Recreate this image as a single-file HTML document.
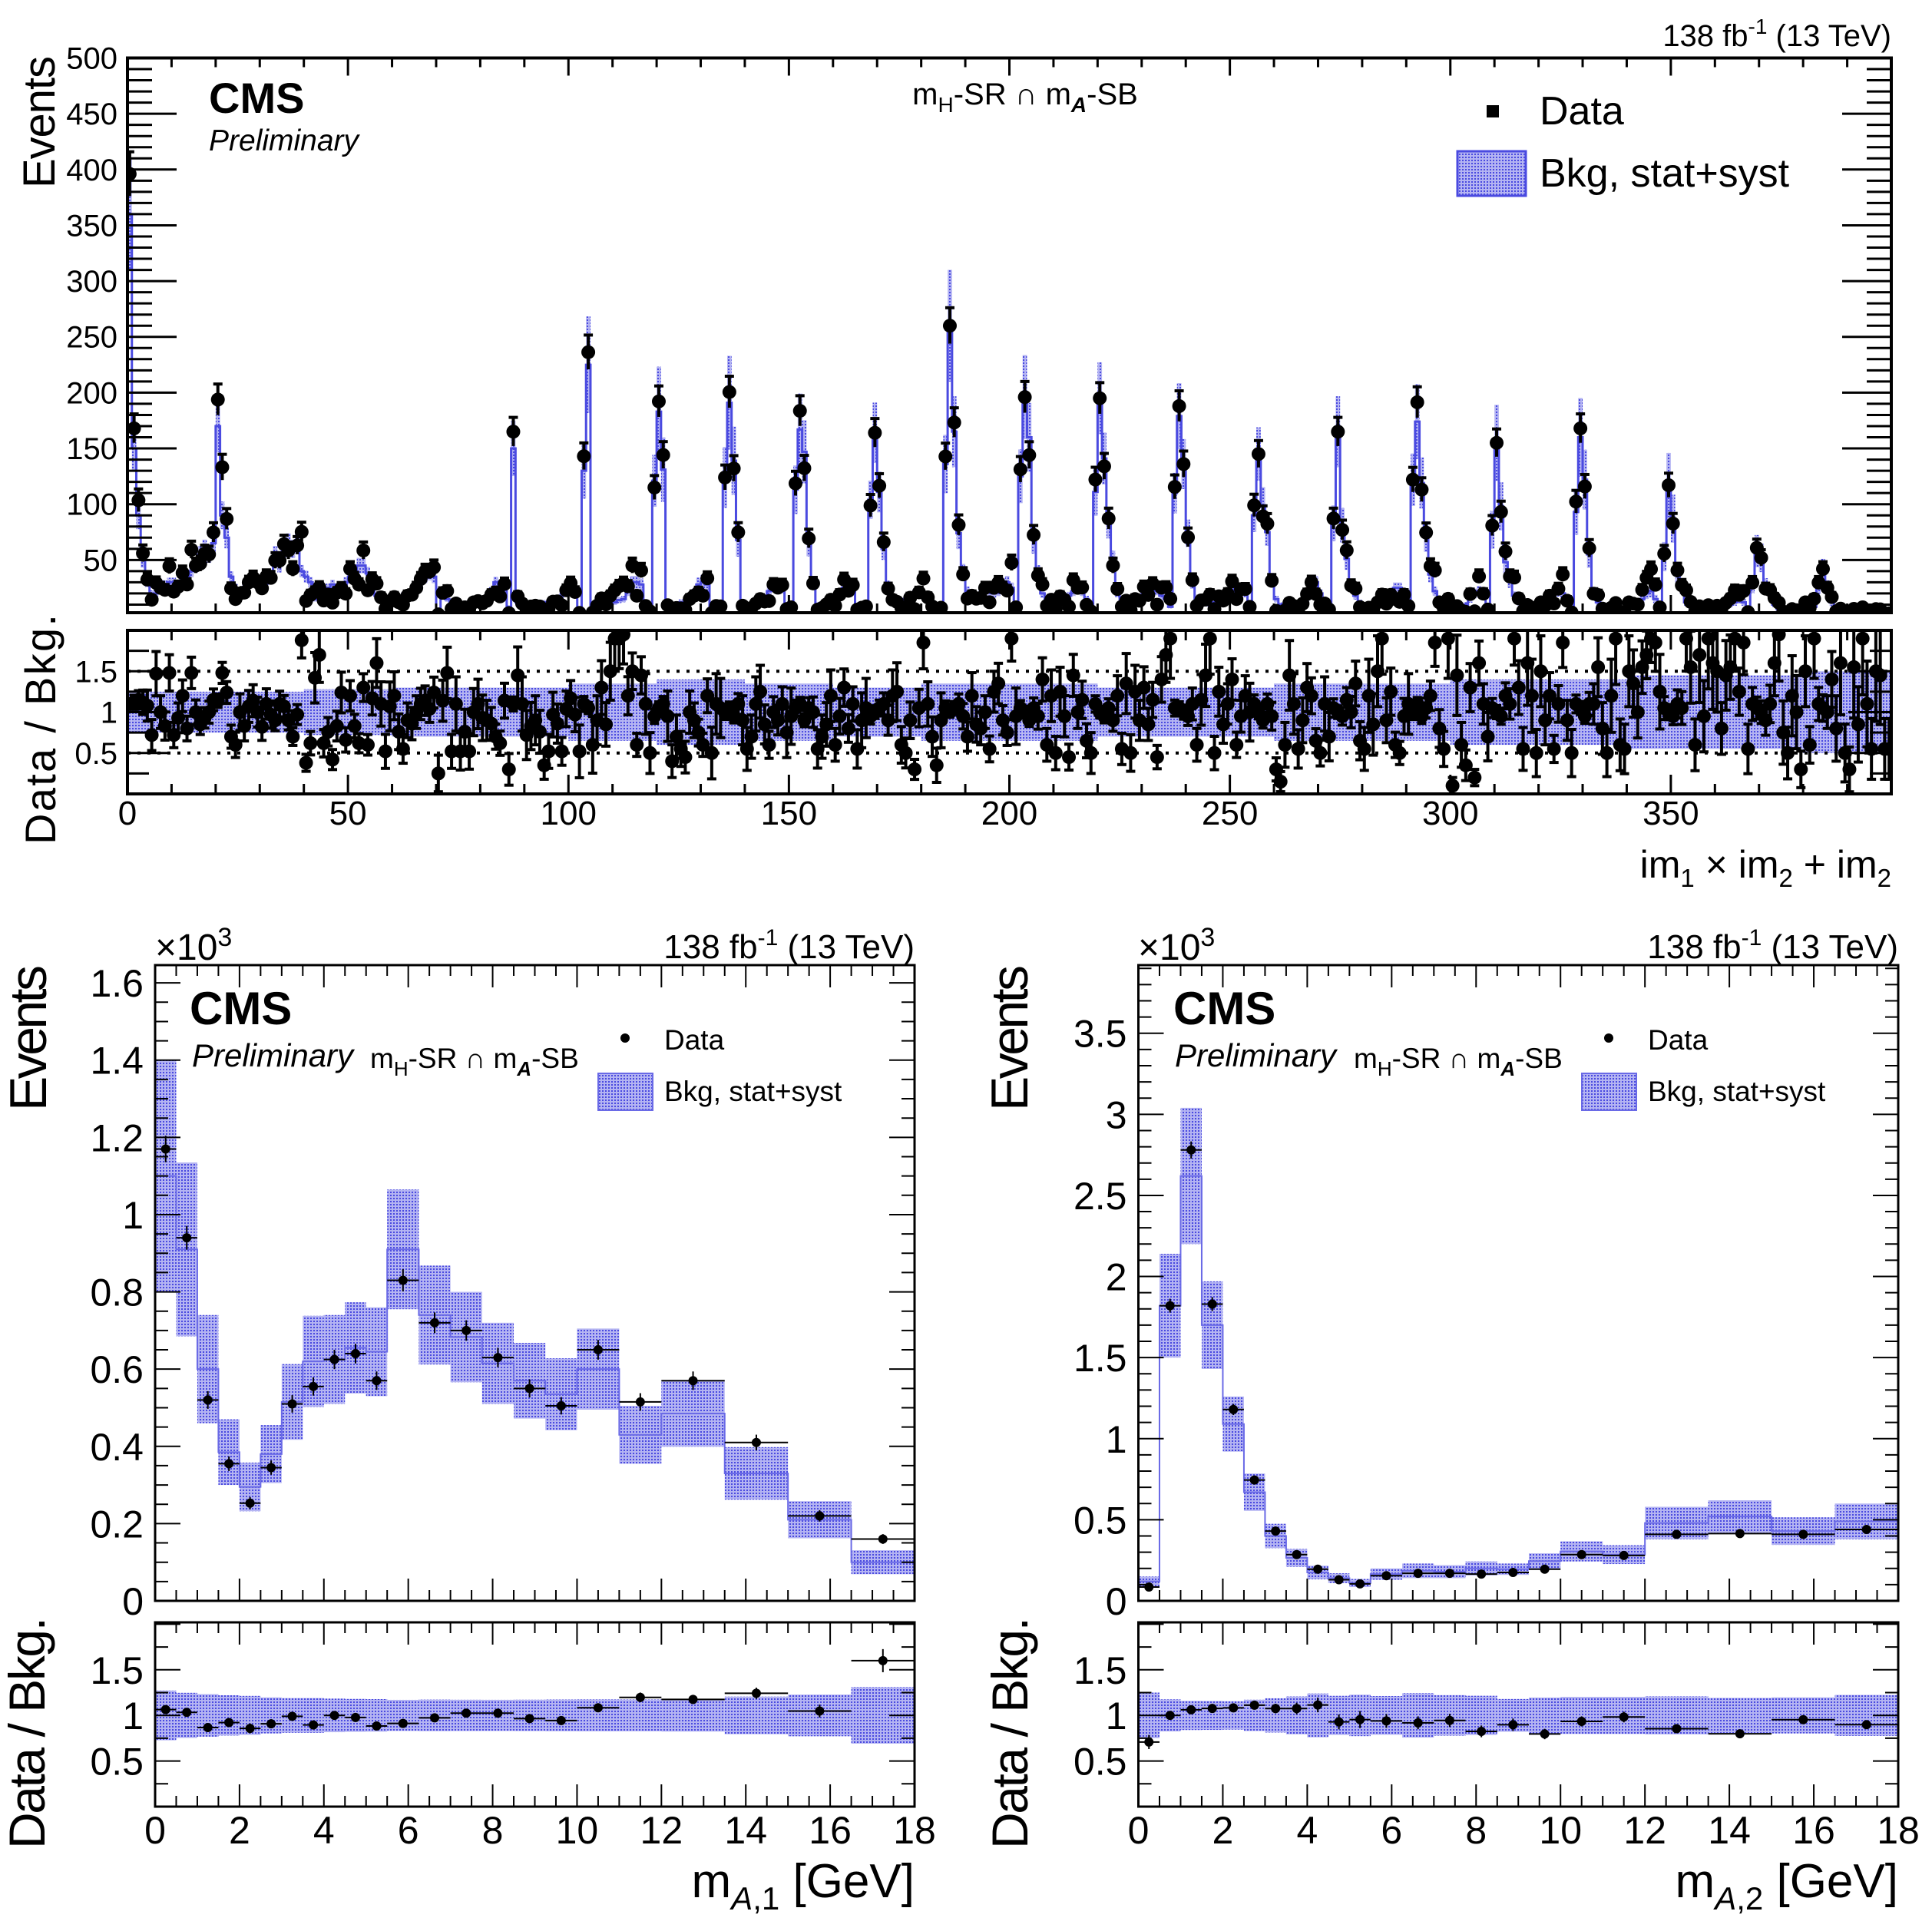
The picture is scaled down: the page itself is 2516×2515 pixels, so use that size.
<!DOCTYPE html>
<html><head><meta charset="utf-8"><style>
html,body{margin:0;padding:0;background:#fff}
svg{display:block;font-family:"Liberation Sans",Arial,sans-serif}
</style></head><body>
<svg id="fig" xmlns="http://www.w3.org/2000/svg" width="2516" height="2515" viewBox="0 0 2516 2515">
<defs>
<pattern id="hatch" width="4" height="4" patternUnits="userSpaceOnUse">
<rect width="4" height="4" fill="#b4b4f2"/><rect width="2" height="2" fill="#4a4ae0"/>
</pattern>
<clipPath id="cTop"><rect x="166" y="75.5" width="2297" height="722.5"/></clipPath>
<clipPath id="cTopR"><rect x="166" y="821" width="2297" height="213"/></clipPath>
<clipPath id="cBL"><rect x="202" y="1257" width="989" height="828"/></clipPath>
<clipPath id="cBLR"><rect x="202" y="2113" width="989" height="240"/></clipPath>
<clipPath id="cBR"><rect x="1482.5" y="1257" width="989.5" height="828"/></clipPath>
<clipPath id="cBRR"><rect x="1482.5" y="2113" width="989.5" height="240"/></clipPath>
</defs>
<g id="layer"></g>

<text x="2463" y="60" font-size="40" text-anchor="end">138 fb<tspan dy="-16" font-size="28">-1</tspan><tspan dy="16"> (13 TeV)</tspan></text>
<text x="272" y="147" font-size="56" font-weight="bold">CMS</text>
<text x="272" y="196" font-size="39" font-style="italic">Preliminary</text>
<text x="1335" y="136" font-size="40" text-anchor="middle">m<tspan dy="10" font-size="28">H</tspan><tspan dy="-10">-SR ∩ m</tspan><tspan dy="10" font-size="28" font-weight="bold" font-style="italic">A</tspan><tspan dy="-10">-SB</tspan></text>
<rect x="1936" y="137" width="16" height="16" fill="#000"/>
<text x="2005" y="162" font-size="52">Data</text>
<rect x="1898" y="197" width="89" height="58" fill="url(#hatch)" stroke="#4a4ae0" stroke-width="3"/>
<text x="2005" y="243" font-size="52">Bkg, stat+syst</text>
<text transform="translate(71,73) rotate(-90)" font-size="58" text-anchor="end" textLength="172">Events</text>
<text transform="translate(72,800) rotate(-90)" font-size="56" text-anchor="end" textLength="300">Data / Bkg.</text>
<text x="2463" y="1143" font-size="50" text-anchor="end">im<tspan dy="12" font-size="33">1</tspan><tspan dy="-12"> × im</tspan><tspan dy="12" font-size="33">2</tspan><tspan dy="-12"> + im</tspan><tspan dy="12" font-size="33">2</tspan></text>

<text x="202" y="1250" font-size="48">×10<tspan dy="-18" font-size="34">3</tspan></text>
<text x="1191" y="1248" font-size="44" text-anchor="end">138 fb<tspan dy="-17" font-size="30">-1</tspan><tspan dy="17"> (13 TeV)</tspan></text>
<text x="247" y="1334" font-size="60" font-weight="bold">CMS</text>
<text x="250" y="1389" font-size="42" font-style="italic">Preliminary</text>
<text x="482" y="1391" font-size="37">m<tspan dy="10" font-size="26">H</tspan><tspan dy="-10">-SR ∩ m</tspan><tspan dy="10" font-size="26" font-weight="bold" font-style="italic">A</tspan><tspan dy="-10">-SB</tspan></text>
<circle cx="814" cy="1352" r="6" fill="#000"/>
<text x="865" y="1367" font-size="37">Data</text>
<rect x="779" y="1398" width="71" height="48" fill="url(#hatch)" stroke="#6a6ae6" stroke-width="2"/>
<text x="865" y="1434" font-size="37">Bkg, stat+syst</text>
<text transform="translate(60,1257) rotate(-90)" font-size="68" text-anchor="end" textLength="190">Events</text>
<text transform="translate(58,2106) rotate(-90)" font-size="66" text-anchor="end" textLength="302">Data / Bkg.</text>
<text x="1191" y="2471" font-size="62" text-anchor="end">m<tspan dy="16" font-size="42" font-style="italic">A</tspan><tspan font-size="42">,1</tspan><tspan dy="-16"> [GeV]</tspan></text>

<text x="1482" y="1250" font-size="48">×10<tspan dy="-18" font-size="34">3</tspan></text>
<text x="2472" y="1248" font-size="44" text-anchor="end">138 fb<tspan dy="-17" font-size="30">-1</tspan><tspan dy="17"> (13 TeV)</tspan></text>
<text x="1528" y="1334" font-size="60" font-weight="bold">CMS</text>
<text x="1530" y="1389" font-size="42" font-style="italic">Preliminary</text>
<text x="1763" y="1391" font-size="37">m<tspan dy="10" font-size="26">H</tspan><tspan dy="-10">-SR ∩ m</tspan><tspan dy="10" font-size="26" font-weight="bold" font-style="italic">A</tspan><tspan dy="-10">-SB</tspan></text>
<circle cx="2095" cy="1352" r="6" fill="#000"/>
<text x="2146" y="1367" font-size="37">Data</text>
<rect x="2060" y="1398" width="71" height="48" fill="url(#hatch)" stroke="#6a6ae6" stroke-width="2"/>
<text x="2146" y="1434" font-size="37">Bkg, stat+syst</text>
<text transform="translate(1338,1257) rotate(-90)" font-size="68" text-anchor="end" textLength="190">Events</text>
<text transform="translate(1338,2106) rotate(-90)" font-size="66" text-anchor="end" textLength="302">Data / Bkg.</text>
<text x="2472" y="2471" font-size="62" text-anchor="end">m<tspan dy="16" font-size="42" font-style="italic">A</tspan><tspan font-size="42">,2</tspan><tspan dy="-16"> [GeV]</tspan></text>
</svg>
<script>
// ---------- top panel (per unit bin, 0..399): background prediction ----------
const topBkg = [
360,150,90,50,30,20,20,25,28,30,30,28,32,35,40,45,55,60,55,65,
170,90,70,35,25,20,25,28,30,30,
30,32,35,55,45,60,65,60,65,40,
35,30,15,15,22,25,28,25,20,30,35,40,45,45,38,28,18,15,12,12,
14,16,18,20,22,25,30,35,38,35,5,18,15,12,10,10,10,11,12,12,
12,15,22,30,28,25,8,150,12,10,8,10,10,11,12,12,13,15,18,22,
25,22,5,130,225,
5,10,12,12,12,12,14,15,22,30,30,28,8,8,
121,183,131,
10,10,10,12,12,15,20,28,30,28,5,8,8,
124,191,139,68,
10,8,10,10,12,15,22,28,28,25,8,8,
113,167,147,66,29,
10,10,12,12,15,20,25,28,25,10,8,8,
104,164,111,60,27,
12,10,12,15,18,20,20,18,15,12,8,8,
136,260,165,74,39,
22,15,18,20,25,22,20,22,28,30,25,8,
125,196,160,69,38,
20,15,12,12,14,15,18,22,25,22,15,8,
111,195,141,83,50,
20,15,10,10,12,15,20,22,25,22,18,15,8,
110,179,136,74,29,
15,12,10,10,12,14,16,18,22,25,25,20,8,
90,145,99,75,33,
15,10,8,8,8,10,12,15,25,30,20,10,8,
83,165,81,51,27,
18,12,8,6,6,8,10,12,15,25,25,20,8,
122,174,119,71,37,
22,15,12,8,6,6,8,10,15,20,22,18,8,
77,155,98,48,32,
18,12,8,6,6,6,8,10,15,20,22,20,15,6,
93,160,122,55,18,
12,8,6,6,6,6,6,8,8,10,15,20,22,15,6,
53,117,87,37,26,
12,8,6,5,5,5,5,6,8,8,10,12,15,12,6,
27,58,52,27,21,
10,6,5,5,5,5,6,8,12,8,
27,40,25,12,
5,4,4,4,4,4,4,4,4,4,4,4,4];
// observed / background per bin
const topRatio = [
1.1,1.12,1.15,1.12,1.08,0.72,1.47,1.0,0.83,1.48,0.72,0.93,1.2,0.8,1.48,1.0,0.85,0.93,1.0,1.15,
1.14,1.48,1.24,0.7,0.6,1.0,0.83,1.07,1.14,1.0,0.82,1.1,0.97,0.9,1.1,1.07,0.9,0.7,0.97,1.88,
0.38,0.62,1.42,1.7,0.62,0.76,0.42,0.83,1.24,0.66,1.2,0.83,0.62,1.3,0.6,1.17,1.6,1.1,0.52,1.07,
1.2,0.76,0.55,0.9,0.86,1.0,1.1,1.14,1.04,1.24,0.25,1.14,1.48,0.52,1.1,0.52,0.76,0.52,1.0,1.1,
0.93,0.9,0.86,0.7,0.62,1.14,0.3,1.1,1.45,1.1,0.72,0.83,0.9,0.76,0.35,0.52,0.97,0.86,0.52,1.04,
1.17,0.97,0.52,1.1,1.05,0.6,0.9,1.3,0.85,1.5,1.9,1.9,1.95,1.2,1.5,0.6,1.45,1.1,0.5,0.95,
1.05,1.1,0.95,0.4,0.7,0.55,0.45,1.0,0.9,0.75,0.6,1.2,0.5,1.1,1.05,1.0,1.05,0.95,1.1,0.9,
0.55,0.7,1.1,1.25,0.85,0.6,1.0,0.9,1.1,0.75,0.95,1.05,1.1,0.9,1.05,1.0,0.55,0.7,0.85,1.2,
0.6,0.95,1.3,0.8,1.1,0.55,0.9,1.05,0.95,1.0,1.05,1.1,0.9,1.2,1.25,0.6,0.5,0.9,0.3,1.05,
1.85,1.1,0.7,0.35,0.9,1.05,1.0,1.05,1.1,0.95,0.7,1.2,0.85,0.8,1.0,0.55,1.25,1.35,0.9,0.75,
1.9,0.95,1.05,1.0,0.9,1.05,0.95,1.4,0.6,1.2,0.5,1.25,0.95,0.45,1.45,1.0,1.15,0.65,0.5,1.1,
1.0,0.95,1.05,0.9,1.2,0.55,1.35,0.5,1.25,0.9,1.3,0.85,1.15,0.45,1.4,1.7,1.9,1.05,1.05,1.0,
0.95,1.1,0.6,1.15,1.45,1.9,0.5,1.25,0.85,1.1,1.4,0.6,0.95,1.2,1.0,1.1,1.0,0.9,1.1,0.95,
0.3,0.15,0.6,1.45,1.1,0.55,0.9,1.3,1.2,0.65,0.5,1.1,0.7,1.05,1.0,0.95,1.15,1.0,1.35,0.65,
0.55,1.2,0.85,1.5,1.9,0.9,1.25,0.6,0.5,0.95,1.1,1.0,1.1,0.95,1.05,1.2,1.85,0.8,0.55,1.9,
0.1,1.45,0.6,0.35,1.3,0.2,1.6,1.1,0.7,1.05,1.0,0.95,1.2,1.1,1.9,1.3,0.55,1.6,1.2,0.5,
1.5,0.9,1.2,0.55,1.1,1.85,0.9,0.5,1.1,1.05,0.95,1.1,1.1,1.55,0.8,0.5,1.2,1.9,0.6,0.55,
1.5,1.35,1.0,1.55,1.7,1.9,1.85,1.25,1.05,1.0,0.95,1.1,1.05,1.9,1.55,0.6,1.7,0.95,1.9,1.6,
1.5,0.8,1.45,1.55,1.9,1.25,1.85,0.55,1.1,1.05,1.0,0.9,1.1,1.6,1.95,0.75,0.5,1.2,1.0,0.3,
1.5,0.6,1.9,1.1,1.05,1.0,1.4,0.8,1.6,0.5,0.3,1.55,0.85,1.9,1.1,0.55,1.5,1.45,0.55,0.55];
const topBandRelPerBlock = [0.25,0.25,0.28,0.3,0.3,0.35,0.4,0.35,0.3,0.35,0.35,0.3,0.3,0.35,0.35,0.4,0.4,0.45,0.45,0.5];
const topXTicks = [0,50,100,150,200,250,300,350];
const topYTicks = [50,100,150,200,250,300,350,400,450,500];
const ratioTicks = [0.5,1,1.5];

// ---------- bottom panels (units of 10^3 events) ----------
const binEdges = [0,0.5,1,1.5,2,2.5,3,3.5,4,4.5,5,5.5,6.25,7,7.75,8.5,9.25,10,11,12,13.5,15,16.5,18];
const ma1Bkg  = [1.1,0.91,0.6,0.385,0.295,0.38,0.515,0.62,0.625,0.655,0.645,0.91,0.74,0.683,0.615,0.57,0.535,0.6,0.43,0.485,0.33,0.21,0.1];
const ma1BkgErr = [0.3,0.225,0.14,0.085,0.063,0.075,0.098,0.118,0.115,0.118,0.115,0.155,0.128,0.117,0.105,0.098,0.093,0.105,0.075,0.086,0.068,0.048,0.031];
const ma1Data = [1.17,0.94,0.52,0.355,0.253,0.345,0.51,0.555,0.625,0.64,0.57,0.83,0.72,0.70,0.63,0.55,0.505,0.65,0.515,0.57,0.41,0.22,0.16];
const ma2Bkg  = [0.12,1.82,2.62,1.7,1.09,0.67,0.4,0.265,0.175,0.14,0.11,0.165,0.185,0.18,0.2,0.195,0.245,0.305,0.285,0.48,0.52,0.43,0.49];
const ma2BkgErr = [0.03,0.32,0.42,0.27,0.17,0.115,0.075,0.055,0.042,0.03,0.025,0.035,0.045,0.04,0.043,0.035,0.048,0.062,0.058,0.1,0.1,0.085,0.11];
const ma2Data = [0.085,1.82,2.78,1.83,1.18,0.745,0.43,0.285,0.195,0.13,0.105,0.155,0.17,0.17,0.165,0.175,0.195,0.285,0.28,0.41,0.415,0.41,0.44];
const bottomXTicks = [0,2,4,6,8,10,12,14,16,18];
const ma1YTicks = [0,0.2,0.4,0.6,0.8,1,1.2,1.4,1.6];
const ma2YTicks = [0,0.5,1,1.5,2,2.5,3,3.5];

const NS='http://www.w3.org/2000/svg';
const layer=document.getElementById('layer');
function el(tag,parent,name,attrs){
  const e=document.createElementNS(NS,tag);
  
  
  for(const k in attrs) e.setAttribute(k,attrs[k]);
  parent.appendChild(e);
  return e;
}
function lin(d0,d1,p0,p1){return v=>p0+(v-d0)*(p1-p0)/(d1-d0);}
const BLUE='#4a4ae0';

function frameAndTicks(g,prefix,L,R,T,B,xs,ys,xMajor,xMinor,yMajor,yMinor,xmin,xmax,ymin,ymax,lx,ly,ymj,ymn,sw){
  for(let v=Math.ceil(xmin/xMinor-1e-9)*xMinor; v<=xmax+1e-9; v+=xMinor){
    const maj=Math.abs(v/xMajor-Math.round(v/xMajor))<1e-6, len=maj?lx:ly, x=xs(v);
    el('line',g,prefix+'-x-tick',{x1:x,x2:x,y1:B,y2:B-len,stroke:'#000','stroke-width':sw});
    el('line',g,prefix+'-x-tick-top',{x1:x,x2:x,y1:T,y2:T+len,stroke:'#000','stroke-width':sw});
  }
  for(let v=Math.ceil(ymin/yMinor-1e-9)*yMinor; v<=ymax+1e-9; v+=yMinor){
    const maj=Math.abs(v/yMajor-Math.round(v/yMajor))<1e-6, len=maj?ymj:ymn, y=ys(v);
    el('line',g,prefix+'-y-tick',{x1:L,x2:L+len,y1:y,y2:y,stroke:'#000','stroke-width':sw});
    el('line',g,prefix+'-y-tick-right',{x1:R,x2:R-len,y1:y,y2:y,stroke:'#000','stroke-width':sw});
  }
  el('rect',g,prefix+'-frame',{x:L,y:T,width:R-L,height:B-T,fill:'none',stroke:'#000','stroke-width':sw+1});
}
function label(g,name,x,y,txt,size,anchor){
  const t=el('text',g,name,{x:x,y:y,'font-size':size,'text-anchor':anchor});
  t.textContent=txt; return t;
}

// ================= TOP PANEL =================
(function(){
  const L=166,R=2463,T=75.5,B=798,T2=821,B2=1034;
  const xs=lin(0,400,L,R), ys=lin(2.75,500,B,T), rs=lin(0,2,B2,T2);
  const g=el('g',layer,'top-main-plot',{});
  const gb=el('g',g,'top-bkg-group',{'clip-path':'url(#cTop)'});
  const gr=el('g',layer,'top-ratio-plot',{});
  const grb=el('g',gr,'top-ratio-group',{'clip-path':'url(#cTopR)'});
  const n=topBkg.length;
  const data=topBkg.map((b,i)=>b*topRatio[i]);
  const rel=i=>topBandRelPerBlock[Math.min(19,Math.floor(i/20))];
  for(let i=0;i<n;i++){
    const x0=xs(i),x1=xs(i+1),b=topBkg[i],r=rel(i),rm=r*0.55;
    el('rect',gb,'top-bkg-band',{x:x0,y:ys(b*(1+rm)),width:x1-x0,height:Math.max(0,ys(b*(1-rm))-ys(b*(1+rm))),fill:'url(#hatch)'});
    el('rect',grb,'top-ratio-band',{x:x0,y:rs(1+r),width:x1-x0,height:rs(1-r)-rs(1+r),fill:'url(#hatch)'});
  }
  let d='';
  for(let i=0;i<n;i++){const y=ys(topBkg[i]); d+=(i?'L':'M')+xs(i)+' '+y+'L'+xs(i+1)+' '+y;}
  el('path',gb,'top-bkg-line',{d:d,fill:'none',stroke:BLUE,'stroke-width':3});
  [0.5,1.5].forEach(v=>el('line',gr,'top-ratio-dotted-line',{x1:L,x2:R,y1:rs(v),y2:rs(v),stroke:'#000','stroke-width':4,'stroke-dasharray':'4 9'}));
  for(let i=0;i<n;i++){
    const x=xs(i+0.5),dv=data[i],e=Math.sqrt(dv);
    el('line',gb,'top-data-errorbar',{x1:x,x2:x,y1:ys(dv+e),y2:ys(Math.max(0,dv-e)),stroke:'#000','stroke-width':4});
    el('line',gb,'top-data-cap',{x1:x-6,x2:x+6,y1:ys(dv+e),y2:ys(dv+e),stroke:'#000','stroke-width':4});
    el('circle',gb,'top-data-point',{cx:x,cy:ys(dv),r:9,fill:'#000'});
    const rv=topRatio[i],re=rv/Math.sqrt(Math.max(dv,1));
    el('line',grb,'top-ratio-errorbar',{x1:x,x2:x,y1:rs(rv+re),y2:rs(rv-re),stroke:'#000','stroke-width':4});
    el('line',grb,'top-ratio-cap',{x1:x-6,x2:x+6,y1:rs(rv+re),y2:rs(rv+re),stroke:'#000','stroke-width':4});
    el('line',grb,'top-ratio-cap',{x1:x-6,x2:x+6,y1:rs(rv-re),y2:rs(rv-re),stroke:'#000','stroke-width':4});
    el('circle',grb,'top-ratio-point',{cx:x,cy:rs(rv),r:9,fill:'#000'});
  }
  frameAndTicks(g,'top-main',L,R,T,B,xs,ys,50,10,50,10,0,400,2.75,500,23,12,64,32,3);
  frameAndTicks(gr,'top-ratio',L,R,T2,B2,xs,rs,50,10,0.5,0.25,0,400,0,2,25,13,56,28,3);
  topYTicks.forEach(v=>label(g,'top-y-tick-label',153,ys(v)+14,String(v),40,'end'));
  ratioTicks.forEach(v=>label(gr,'top-ratio-y-tick-label',153,rs(v)+14,String(v),40,'end'));
  topXTicks.forEach(v=>label(gr,'top-x-tick-label',xs(v),1074,String(v),44,'middle'));
})();

// ================= BOTTOM PANELS =================
function bottomPanel(prefix,L,R,bk,bkErr,dat,ymax,yTicks,yMajor,yMinor,clipMain,clipRatio){
  const T=1257,B=2085,T2=2113,B2=2353;
  const xs=lin(0,18,L,R), ys=lin(0,ymax,B,T), rs=lin(0,2.02,B2,T2);
  const g=el('g',layer,prefix+'-main-plot',{});
  const gc=el('g',g,prefix+'-marks',{'clip-path':'url('+clipMain+')'});
  const gr=el('g',layer,prefix+'-ratio-plot',{});
  const grc=el('g',gr,prefix+'-ratio-marks',{'clip-path':'url('+clipRatio+')'});
  let d='';
  for(let i=0;i<bk.length;i++){
    const x0=xs(binEdges[i]),x1=xs(binEdges[i+1]);
    el('rect',gc,prefix+'-bkg-band',{x:x0,y:ys(bk[i]+bkErr[i]),width:x1-x0,height:ys(bk[i]-bkErr[i])-ys(bk[i]+bkErr[i]),fill:'url(#hatch)'});
    const rr=bkErr[i]/bk[i];
    el('rect',grc,prefix+'-ratio-band',{x:x0,y:rs(1+rr),width:x1-x0,height:rs(1-rr)-rs(1+rr),fill:'url(#hatch)'});
    d+=(i?'L':'M'+x0+' '+ys(0)+'L')+x0+' '+ys(bk[i])+'L'+x1+' '+ys(bk[i]);
  }
  el('path',gc,prefix+'-bkg-line',{d:d,fill:'none',stroke:'#6a6ae6','stroke-width':2});
  for(let i=0;i<dat.length;i++){
    const x0=xs(binEdges[i]),x1=xs(binEdges[i+1]),xc=(x0+x1)/2,v=dat[i],e=Math.sqrt(v*1000)/1000;
    el('line',gc,prefix+'-data-xerr',{x1:x0,x2:x1,y1:ys(v),y2:ys(v),stroke:'#000','stroke-width':2});
    el('line',gc,prefix+'-data-yerr',{x1:xc,x2:xc,y1:ys(v+e),y2:ys(v-e),stroke:'#000','stroke-width':2});
    el('circle',gc,prefix+'-data-point',{cx:xc,cy:ys(v),r:6,fill:'#000'});
    const r=v/bk[i],re=e/bk[i];
    el('line',grc,prefix+'-ratio-xerr',{x1:x0,x2:x1,y1:rs(r),y2:rs(r),stroke:'#000','stroke-width':2});
    el('line',grc,prefix+'-ratio-yerr',{x1:xc,x2:xc,y1:rs(r+re),y2:rs(r-re),stroke:'#000','stroke-width':2});
    el('circle',grc,prefix+'-ratio-point',{cx:xc,cy:rs(r),r:6,fill:'#000'});
  }
  frameAndTicks(g,prefix+'-main',L,R,T,B,xs,ys,2,0.5,yMajor,yMinor,0,18,0,ymax,29,14,33,17,2);
  frameAndTicks(gr,prefix+'-ratio',L,R,T2,B2,xs,rs,2,0.5,0.5,0.25,0,18,0,2.02,29,14,33,17,2);
  yTicks.forEach(v=>label(g,prefix+'-y-tick-label',L-15,ys(v)+18,String(v),50,'end'));
  ratioTicks.forEach(v=>label(gr,prefix+'-ratio-y-tick-label',L-15,rs(v)+18,String(v),50,'end'));
  bottomXTicks.forEach(v=>label(gr,prefix+'-x-tick-label',xs(v),2401,String(v),50,'middle'));
}
bottomPanel('bl',202,1191,ma1Bkg,ma1BkgErr,ma1Data,1.646,ma1YTicks,0.2,0.05,'#cBL','#cBLR');
bottomPanel('br',1482.5,2472,ma2Bkg,ma2BkgErr,ma2Data,3.92,ma2YTicks,0.5,0.1,'#cBR','#cBRR');
</script>
</body></html>
